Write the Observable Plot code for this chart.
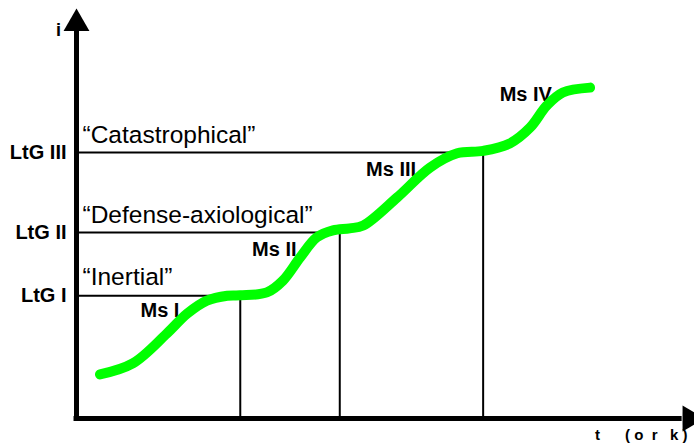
<!DOCTYPE html>
<html>
<head>
<meta charset="utf-8">
<script src="https://cdn.jsdelivr.net/npm/d3@7"></script>
<script src="https://cdn.jsdelivr.net/npm/@observablehq/plot@0.6"></script>
<style>
  html, body { margin: 0; padding: 0; background: #fff; }
  svg { display: block; }
</style>
</head>
<body>
<div id="chart"></div>
<script>
// Curve (t, i), in arbitrary units 0–100
const curveT = [3.8, 9.1, 14.6, 17.9, 21.1, 24.4, 26.5, 30.8, 33.4, 36.2, 38.9, 41.5, 44.2, 46.4, 51.9, 57.2, 61.6, 65.8, 70.1, 73.4, 76.1, 78.7, 83.1];
const curveI = [10.8, 13.5, 20.8, 25.7, 28.9, 30.1, 30.2, 30.9, 33.8, 39.5, 44.4, 46.1, 46.6, 47.3, 54.2, 61.5, 65.0, 65.6, 67.4, 71.3, 76.7, 79.9, 81.1];

// Levels (LtG) and where each level ends (vertical drop line)
const levelNames = ["LtG I", "LtG II", "LtG III"];
const levelValues = [30.1, 45.6, 65.2];
const levelEndT = [26.5, 42.6, 65.8];

// Quoted level descriptions
const quoteTexts = ["\u201CInertial\u201D", "\u201CDefense-axiological\u201D", "\u201CCatastrophical\u201D"];
const quoteI = [34.7, 49.8, 69.4];

// Stage labels
const msTexts = ["Ms I", "Ms II", "Ms III", "Ms IV"];
const msT = [13.5, 32.0, 50.9, 72.7];
const msI = [26.5, 41.4, 61.0, 79.4];

const NB = "\u00A0";
const xLabel = "t" + NB.repeat(6) + "(" + NB + "o" + NB.repeat(2) + "r" + NB.repeat(3) + "k" + NB + ")";
const yLabel = "i";

const font = "Arial, 'Liberation Sans', sans-serif";

const curve = curveT.map((t, k) => ({t, i: curveI[k]}));
const levels = levelValues.map((v, k) => ({name: levelNames[k], level: v, end: levelEndT[k]}));
const quotes = quoteTexts.map((s, k) => ({s, i: quoteI[k]}));
const ms = msTexts.map((s, k) => ({s, t: msT[k], i: msI[k]}));

const chart = Plot.plot({
  width: 694,
  height: 443,
  marginLeft: 76,
  marginRight: 0,
  marginTop: 10,
  marginBottom: 25,
  style: {background: "#fff", fontFamily: font, overflow: "visible"},
  x: {domain: [0, 100], axis: null},
  y: {domain: [0, 100], axis: null},
  marks: [
    // level lines and drop lines
    Plot.ruleY(levels, {y: "level", x1: () => 0, x2: "end", stroke: "black", strokeWidth: 2}),
    Plot.ruleX(levels, {x: "end", y1: () => 0, y2: "level", stroke: "black", strokeWidth: 2}),
    // axes lines
    Plot.ruleX([0], {y1: -0.7, y2: 96, stroke: "black", strokeWidth: 5}),
    Plot.ruleY([0], {x1: -0.4, x2: 98, stroke: "black", strokeWidth: 5}),
    // arrowheads
    Plot.dot([0], {x: () => 0, y: () => 100, symbol: "triangle", r: 9.6, fill: "black", stroke: null, dy: 13}),
    Plot.dot([0], {x: () => 100, y: () => 0, symbol: "triangle", r: 9.6, fill: "black", stroke: null, rotate: 90, dx: -4.5}),
    // LtG level labels
    Plot.text(levels, {x: () => 0, y: "level", text: "name", textAnchor: "end", dx: -10, fontSize: 20, fontWeight: "bold", fill: "black"}),
    // axis labels
    Plot.text([yLabel], {x: () => 0, y: () => 95.1, text: (d) => d, dx: -18, fontSize: 18, fontWeight: "bold", fill: "black"}),
    Plot.text([xLabel], {x: () => 100, y: () => 0, text: (d) => d, textAnchor: "end", dx: -7, dy: 17, fontSize: 15, fontWeight: "bold", fill: "black"}),
    // quoted descriptions
    Plot.text(quotes, {x: () => 0, y: "i", text: "s", textAnchor: "start", dx: 6, fontSize: 24.5, fill: "black"}),
    // stage labels
    Plot.text(ms, {x: "t", y: "i", text: "s", fontSize: 20, fontWeight: "bold", fill: "black"}),
    // green curve
    Plot.line(curve, {x: "t", y: "i", stroke: "#00ff00", strokeWidth: 10, curve: "catmull-rom", strokeLinecap: "round"})
  ]
});
document.getElementById("chart").appendChild(chart);
</script>
</body>
</html>
